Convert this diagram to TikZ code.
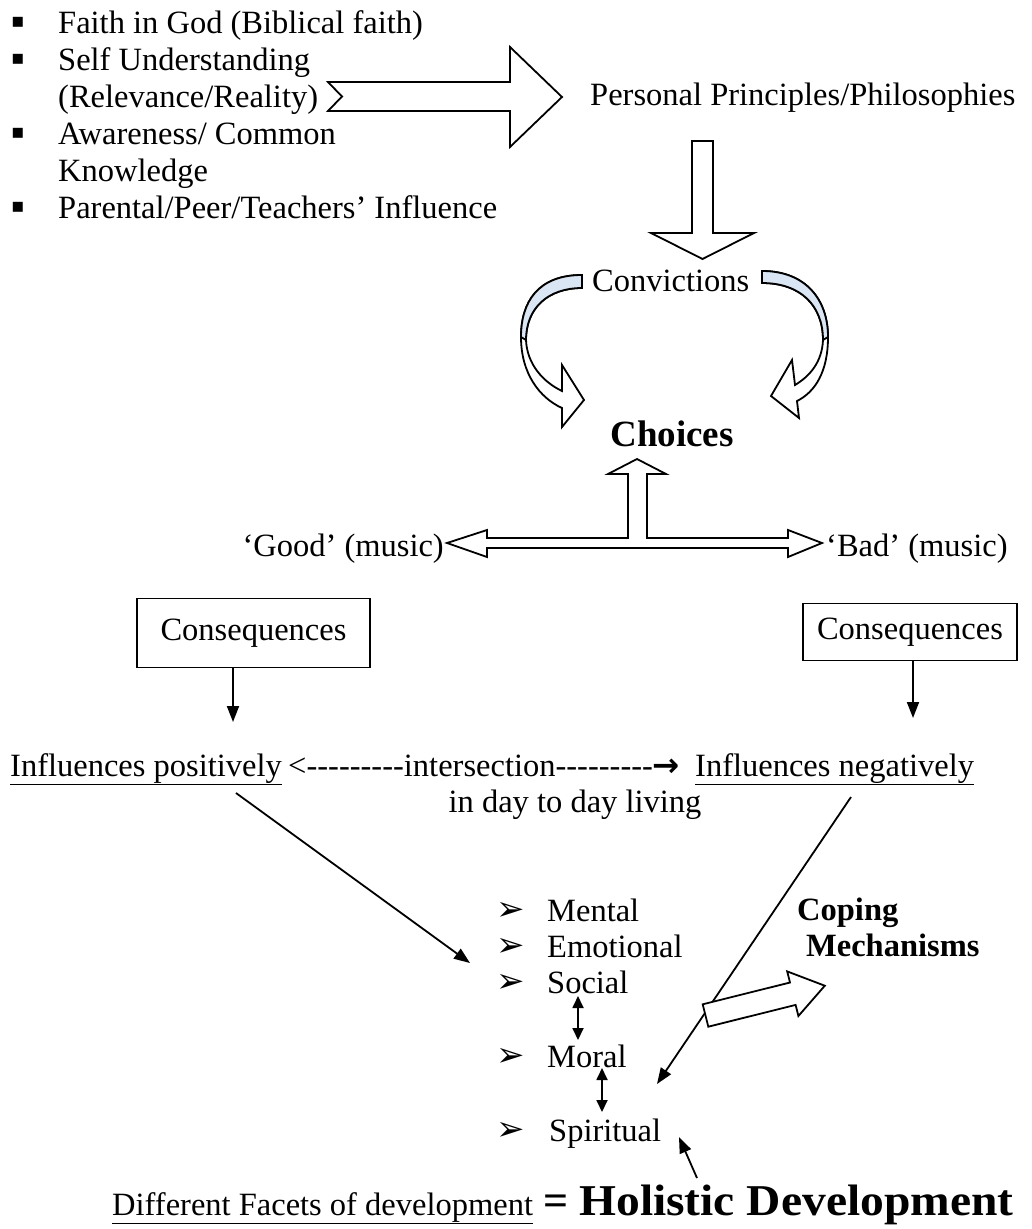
\documentclass[tikz,border=0pt]{standalone}
\usepackage{fontspec}
\usepackage{graphicx}
\setmainfont{Liberation Serif}
\newfontfamily\djv{DejaVu Sans}
\usetikzlibrary{arrows.meta}
\definecolor{cvblue}{RGB}{218,230,243}
\newcommand\hy{\mbox{-}}
\newcommand\hyn{\hy\hy\hy\hy\hy\hy\hy\hy\hy}
\begin{document}
\begin{tikzpicture}[x=1pt,y=-1pt,
  txt/.style={inner sep=0pt, font=\fontsize{32.5}{39}\selectfont},
  bld/.style={inner sep=0pt, font=\fontsize{32.5}{39}\selectfont\bfseries},
  bul/.style={inner sep=0pt, font=\djv\fontsize{20}{20}\selectfont},
  abul/.style={inner sep=0pt, font=\djv\fontsize{34}{34}\selectfont},
  blk/.style={draw=black, line width=1.8pt, fill=white, line join=miter},
  conn/.style={line width=1.8pt, -{Triangle[length=16pt,width=12pt]}},
  dbl/.style={line width=1.8pt, {Triangle[length=12pt,width=11pt]}-{Triangle[length=12pt,width=11pt]}},
  cbox/.style={draw, line width=1.8pt, inner sep=0pt, font=\fontsize{32.5}{39}\selectfont},
]
\useasboundingbox (0,0) rectangle (1031,1229);
\fill[white] (0,0) rectangle (1031,1229);

% ---- top list ----
\node[bul] (b1) at (18,22) {▪};
\node[bul] (b2) at (18,59) {▪};
\node[bul] (b3) at (18,133) {▪};
\node[bul] (b4) at (18,207) {▪};
\node[txt, anchor=base west] (l1) at (58,33) {Faith in God (Biblical faith)};
\node[txt, anchor=base west] (l2) at (58,70) {Self Understanding};
\node[txt, anchor=base west] (l3) at (58,107) {(Relevance/Reality)};
\node[txt, anchor=base west] (l4) at (58,144) {Awareness/ Common};
\node[txt, anchor=base west] (l5) at (58,181) {Knowledge};
\node[txt, anchor=base west] (l6) at (58,218) {Parental/Peer/Teachers’ Influence};

% big notched right arrow
\draw[blk] (328,82) -- (510,82) -- (510,47) -- (562,97) -- (510,147) -- (510,111) -- (328,111) -- (342,96.5) -- cycle;

\node[txt, anchor=base west] (ppp) at (590,105) {Personal Principles/Philosophies};

% down block arrow
\draw[blk] (692,141) -- (713,141) -- (713,233) -- (754,233) -- (702.5,259) -- (651,233) -- (692,233) -- cycle;

\node[txt, anchor=base west] (conv) at (592,291) {Convictions};

% left curved arrow
\draw[blk] (582,275) .. controls (538,275) and (521,302) .. (521,337)
  .. controls (521,374) and (540,398) .. (562,408) -- (562,427) -- (584,400) -- (562,365) -- (562,391)
  .. controls (543,382) and (527,364) .. (526,340)
  .. controls (526,308) and (548,288) .. (582,288) -- cycle;
\filldraw[fill=cvblue, line width=1.8pt] (582,275) .. controls (538,275) and (521,302) .. (521,337)
  -- (526,340) .. controls (526,308) and (548,288) .. (582,288) -- cycle;

% right curved arrow
\draw[blk] (762,271) .. controls (806,271) and (828,300) .. (828,337)
  .. controls (828,372) and (815,392) .. (797,401) -- (799,418) -- (771,396) -- (792,360) -- (795,385)
  .. controls (810,376) and (822,362) .. (823,340)
  .. controls (823,305) and (800,283) .. (762,283) -- cycle;
\filldraw[fill=cvblue, line width=1.8pt] (762,271) .. controls (806,271) and (828,300) .. (828,337)
  -- (823,340) .. controls (823,305) and (800,283) .. (762,283) -- cycle;

\node[bld, font=\fontsize{37}{44}\selectfont\bfseries, anchor=base] (choices) at (672,446) {Choices};

% T arrow
\draw[blk] (637,459) -- (666,474) -- (647,474) -- (647,538) -- (788,538) -- (788,530) -- (822,543)
  -- (788,557) -- (788,548) -- (487,548) -- (487,557) -- (447,543) -- (487,530) -- (487,538)
  -- (628,538) -- (628,474) -- (608,474) -- cycle;

\node[txt, anchor=base east] (good) at (444,556) {‘Good’ (music)};
\node[txt, anchor=base west] (bad) at (826,556) {‘Bad’ (music)};

% consequences
\node[cbox, minimum width=233pt, minimum height=69pt] (cl) at (253.5,633) {Consequences};
\node[cbox, minimum width=214pt, minimum height=57pt] (cr) at (910,632) {Consequences};
\coordinate (clend) at (233,722);
\coordinate (crend) at (913,718);
\draw[conn] (cl.south -| clend) -- (clend);
\draw[conn] (cr.south -| crend) -- (crend);

% influences line
\node[txt, anchor=base west] (ipos) at (10,776) {\underline{Influences positively}};
\node[txt, anchor=base west] (inter) at (288,776) {<\hyn intersection\hyn{\djv\bfseries →}};
\node[txt, anchor=base west] (ineg) at (695,776) {\underline{Influences negatively}};
\node[txt, anchor=base] (daily) at (575,812) {in day to day living};

% facets
\node[abul] (a1) at (511,911) {➢};
\node[abul] (a2) at (511,947) {➢};
\node[abul] (a3) at (511,983) {➢};
\node[abul] (a4) at (511,1057) {➢};
\node[abul] (a5) at (511,1131) {➢};
\node[txt, anchor=base west] (mental) at (547,921) {Mental};
\node[txt, anchor=base west] (emot) at (547,957) {Emotional};
\node[txt, anchor=base west] (social) at (547,993) {Social};
\node[txt, anchor=base west] (moral) at (547,1067) {Moral};
\node[txt, anchor=base west] (spirit) at (549,1141) {Spiritual};

\coordinate (sm1) at (578,996);
\coordinate (sm2) at (578,1040);
\coordinate (ms1) at (602,1068);
\coordinate (ms2) at (602,1112);
\draw[dbl] (sm1) -- (sm2);
\draw[dbl] (ms1) -- (ms2);

% diagonal arrows
\coordinate (ldA) at (236,793);
\coordinate (ldB) at (470,963);
\draw[conn] (ldA) -- (ldB);
\coordinate (rdA) at (851,797);
\coordinate (rdB) at (657,1084);
\draw[conn] (rdA) -- (rdB);

% coping block arrow
\draw[blk] (702.7,1004.3) -- (790,982.5) -- (787.2,971.4) -- (824.8,985.7) -- (798.4,1016) -- (795.6,1004.9) -- (708.3,1026.7) -- cycle;

\node[bld, anchor=base west] (coping) at (797,920) {Coping};
\node[bld, anchor=base west] (mech) at (806,956) {Mechanisms};

% bottom
\coordinate (btA) at (697,1178);
\coordinate (btB) at (679,1137);
\draw[conn] (btA) -- (btB);
\node[txt, anchor=base west] (facets) at (112,1215) {\underline{Different Facets of development}};
\node[bld, font=\fontsize{44}{50}\selectfont\bfseries, anchor=base west] (holistic) at (543,1215) {=~\scalebox{1.08}[1]{Holistic Development}};
\end{tikzpicture}
\end{document}
